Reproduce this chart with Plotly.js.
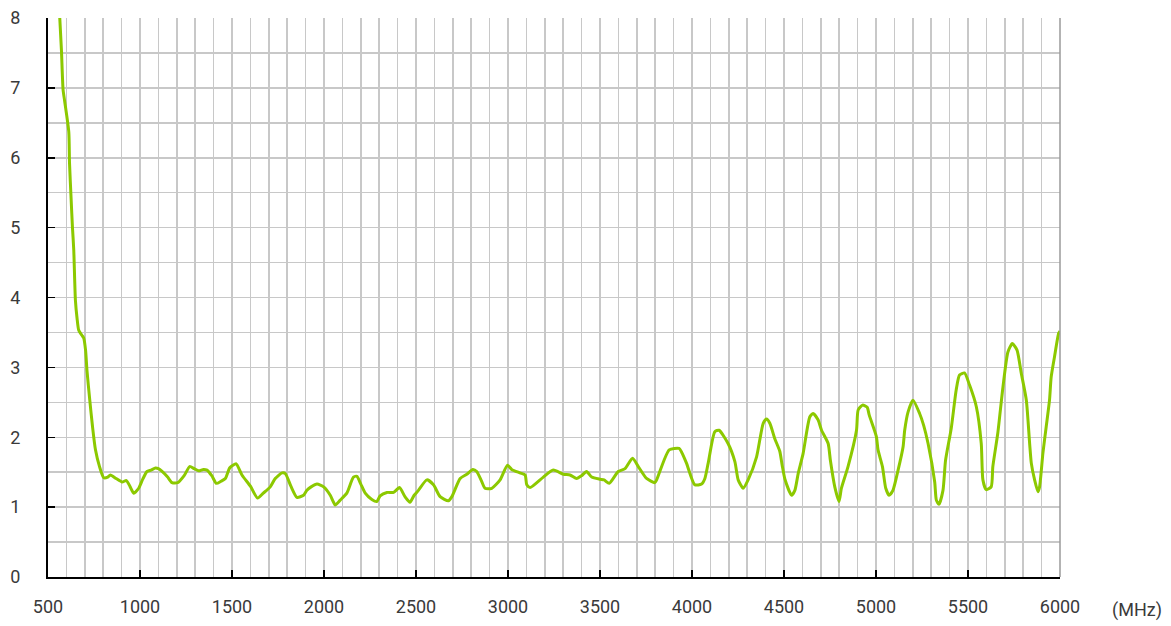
<!DOCTYPE html>
<html>
<head>
<meta charset="utf-8">
<script src="https://cdn.plot.ly/plotly-3.0.1.min.js"></script>
<style>
html,body{margin:0;padding:0;background:#fff;}
#chart{width:1171px;height:626px;}
</style>
</head>
<body>
<div id="chart"></div>
<script>
// Frequency (MHz)
var freq = [563,573,582,590,613,617,626,633,640,649,658,667,684,694,704,712,727,742,758,780,803,825,839,870,903,926,945,966,993,1015,1038,1060,1084,1100,1120,1150,1174,1205,1240,1270,1295,1319,1345,1364,1390,1415,1440,1464,1487,1505,1523,1554,1600,1639,1670,1708,1735,1772,1790,1820,1853,1889,1907,1930,1962,1998,2034,2050,2061,2088,2124,2160,2179,2200,2224,2260,2287,2305,2342,2378,2410,2440,2467,2490,2513,2559,2595,2631,2676,2695,2740,2776,2809,2830,2855,2875,2912,2957,2997,3020,3065,3093,3102,3120,3192,3246,3301,3337,3373,3400,3427,3455,3500,3522,3550,3599,3636,3677,3708,3753,3798,3808,3876,3930,3943,3970,4015,4052,4070,4088,4124,4147,4196,4233,4251,4278,4305,4351,4387,4405,4423,4450,4477,4490,4505,4541,4559,4577,4604,4640,4658,4685,4704,4740,4752,4776,4799,4812,4848,4894,4903,4927,4952,4963,5002,5011,5035,5053,5071,5092,5120,5147,5156,5174,5201,5237,5259,5283,5319,5328,5342,5364,5378,5409,5436,5454,5481,5508,5545,5572,5581,5599,5626,5635,5662,5690,5717,5741,5766,5790,5817,5835,5844,5862,5880,5889,5907,5925,5943,5952,5970,5993,6000];
// VSWR values
var vswr = [8.05,7.54,6.97,6.82,6.37,5.92,5.39,5.0,4.68,3.96,3.7,3.53,3.46,3.42,3.25,2.95,2.53,2.15,1.82,1.58,1.42,1.43,1.46,1.41,1.36,1.38,1.30,1.20,1.27,1.40,1.51,1.53,1.56,1.55,1.51,1.43,1.35,1.35,1.45,1.58,1.55,1.52,1.54,1.53,1.45,1.34,1.37,1.41,1.56,1.60,1.62,1.46,1.30,1.13,1.20,1.29,1.41,1.49,1.48,1.30,1.14,1.17,1.24,1.29,1.33,1.29,1.17,1.08,1.03,1.10,1.20,1.43,1.44,1.33,1.20,1.11,1.08,1.16,1.21,1.21,1.28,1.15,1.07,1.17,1.24,1.39,1.32,1.15,1.09,1.15,1.41,1.47,1.54,1.51,1.38,1.27,1.27,1.39,1.60,1.54,1.49,1.46,1.32,1.28,1.43,1.53,1.47,1.46,1.41,1.45,1.51,1.43,1.40,1.39,1.34,1.51,1.55,1.70,1.58,1.41,1.35,1.39,1.82,1.84,1.79,1.63,1.32,1.33,1.41,1.63,2.08,2.10,1.91,1.65,1.39,1.27,1.39,1.72,2.20,2.26,2.20,1.98,1.80,1.60,1.40,1.17,1.24,1.48,1.77,2.29,2.34,2.25,2.10,1.91,1.67,1.29,1.08,1.27,1.58,2.10,2.39,2.46,2.43,2.32,2.01,1.82,1.58,1.27,1.17,1.24,1.53,1.86,2.10,2.36,2.53,2.34,2.17,1.91,1.36,1.10,1.04,1.24,1.67,2.13,2.68,2.89,2.92,2.75,2.44,1.91,1.39,1.25,1.29,1.58,2.06,2.72,3.22,3.34,3.25,2.91,2.53,1.91,1.63,1.39,1.22,1.29,1.77,2.15,2.53,2.86,3.15,3.49,3.52];
var xTicks = [500,1000,1500,2000,2500,3000,3500,4000,4500,5000,5500,6000];
var yTicks = [0,1,2,3,4,5,6,7,8];
var unitLabel = "(MHz)";

var font = {family: "Roboto, 'DejaVu Sans', sans-serif", size: 18, color: "#3a3a3a"};

var trace = {
  x: freq, y: vswr, type: "scatter", mode: "lines",
  line: {color: "#8cc900", width: 3, shape: "spline", smoothing: 0.6},
  hoverinfo: "x+y", cliponaxis: true
};

var layout = {
  width: 1171, height: 626,
  margin: {l: 47.5, r: 110.5, t: 18, b: 49},
  paper_bgcolor: "#fff", plot_bgcolor: "#fff",
  showlegend: false,
  font: font,
  xaxis: {
    range: [500, 6000], tickmode: "array", tickvals: xTicks, ticktext: xTicks.map(String),
    ticks: "inside", ticklen: 7, tickwidth: 1.5, tickcolor: "#000",
    showline: true, linecolor: "#000", linewidth: 2,
    showgrid: true, gridcolor: "#c8c8c8", gridwidth: 1.5,
    minor: {dtick: 100, tick0: 500, showgrid: true, gridcolor: "#c8c8c8", gridwidth: 1.5, ticks: ""},
    zeroline: false, ticklabelstandoff: 12, tickfont: font, fixedrange: true
  },
  yaxis: {
    range: [0, 8], tickmode: "array", tickvals: yTicks, ticktext: yTicks.map(String),
    ticks: "inside", ticklen: 7, tickwidth: 1.5, tickcolor: "#000",
    showline: true, linecolor: "#000", linewidth: 2,
    showgrid: true, gridcolor: "#c8c8c8", gridwidth: 1.5,
    minor: {dtick: 0.5, tick0: 0, showgrid: true, gridcolor: "#c8c8c8", gridwidth: 1.5, ticks: ""},
    zeroline: false, ticklabelstandoff: 22, tickfont: font, fixedrange: true
  },
  shapes: [
    {type: "line", xref: "paper", yref: "paper", x0: 1, x1: 1, y0: 0, y1: 1, line: {color: "#9a9a9a", width: 1.5}}
  ],
  annotations: [
    {text: unitLabel, xref: "paper", yref: "paper", x: 1.076, y: 0, xanchor: "center", yanchor: "top",
     yshift: -20, showarrow: false, font: font}
  ]
};

Plotly.newPlot("chart", [trace], layout, {displayModeBar: false, staticPlot: true});
</script>
</body>
</html>
